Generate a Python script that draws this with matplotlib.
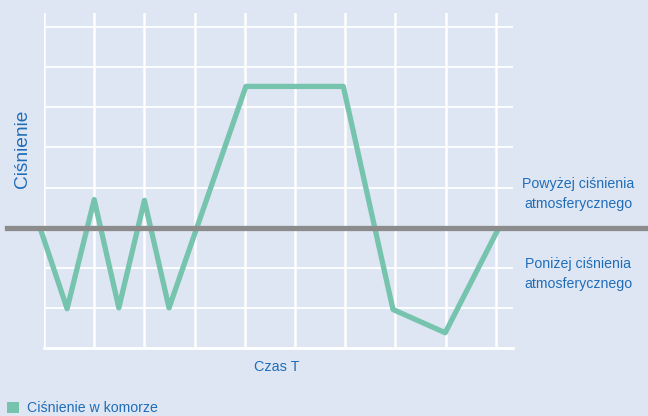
import matplotlib
matplotlib.use("Agg")
import matplotlib.pyplot as plt
from matplotlib.patches import Rectangle

# Data
time = [-0.08, 0.46, 1.0, 1.49, 2.0, 2.49, 4.02, 5.96, 6.95, 7.99, 9.06]
pressure = [0.0, -2.02, 0.7, -2.0, 0.68, -2.0, 3.52, 3.52, -2.04, -2.62, 0.0]
x_grid = list(range(0, 10))
y_grid = [-2, -1, 1, 2, 3, 4, 5]
series_label = "Ciśnienie w komorze"
x_label = "Czas T"
y_label = "Ciśnienie"
above_label = "Powyżej ciśnienia\natmosferycznego"
below_label = "Poniżej ciśnienia\natmosferycznego"

BG = "#dfe6f3"
LINE = "#76c4ad"
GREY = "#8c8c8c"
TXT = "#1f6db8"
FONT = ["Liberation Sans Narrow", "Liberation Sans", "DejaVu Sans"]

W, H = 648, 416
fig = plt.figure(figsize=(W / 100, H / 100), dpi=100, facecolor=BG)

def fx(px):
    return px / W

def fy(py):
    return 1 - py / H

ax = fig.add_axes([fx(44), fy(348), fx(513) - fx(44), fy(13) - fy(348)])
ax.set_facecolor(BG)
ax.set_xlim(0, 9.34)
ax.set_ylim(-3, 5.35)
for s in ["top", "right", "left"]:
    ax.spines[s].set_visible(False)
ax.spines["bottom"].set_color("white")
ax.spines["bottom"].set_linewidth(2)
ax.set_xticks([])
ax.set_yticks([])

for xv in x_grid:
    ax.axvline(xv, color="white", lw=1.8, zorder=1)
for yv in y_grid:
    ax.axhline(yv, color="white", lw=1.3, zorder=1)

ax.plot(time, pressure, color=LINE, lw=3.8, solid_joinstyle="round",
        solid_capstyle="butt", clip_on=False, zorder=3)

ax.axhline(0, xmin=(7 - 44) / 469, xmax=(648 - 44) / 469, color=GREY,
           lw=3.8, clip_on=False, zorder=4)

fig.text(fx(23), fy(149), y_label, rotation=90, ha="center", va="center",
         color=TXT, fontsize=13.8, family=FONT)
fig.text(fx(277), fy(367), x_label, ha="center", va="center",
         color=TXT, fontsize=10.4, family=FONT)
fig.text(fx(578), fy(194), above_label, ha="center", va="center",
         color=TXT, fontsize=10.2, family=FONT, linespacing=1.6)
fig.text(fx(578), fy(274), below_label, ha="center", va="center",
         color=TXT, fontsize=10.2, family=FONT, linespacing=1.6)

fig.patches.append(Rectangle((fx(7), fy(413)), fx(12), (fy(402) - fy(413)),
                             transform=fig.transFigure, facecolor=LINE,
                             edgecolor="none"))
fig.text(fx(27), fy(408.5), series_label, ha="left", va="center",
         color=TXT, fontsize=10.2, family=FONT)

fig.savefig("out.png", dpi=100, facecolor=BG)
